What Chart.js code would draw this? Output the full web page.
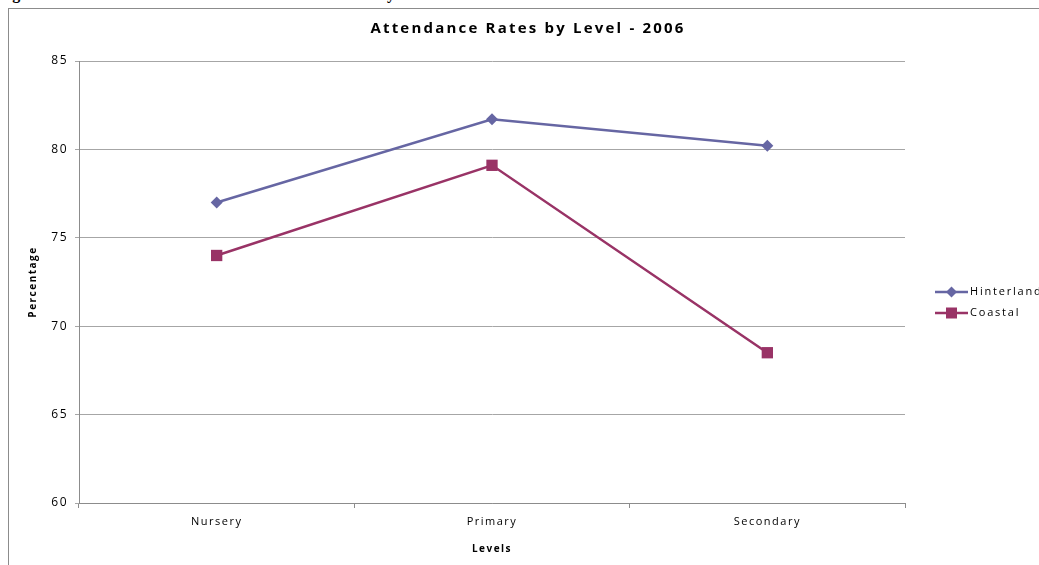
<!DOCTYPE html>
<html>
<head>
<meta charset="utf-8">
<title>Attendance Rates by Level - 2006</title>
<script src="https://cdn.jsdelivr.net/npm/chart.js@4.4.1/dist/chart.umd.min.js"></script>
<style>
  html, body { margin: 0; padding: 0; background: #fff; overflow: hidden; }
  body { width: 1039px; height: 565px; position: relative; }
  .caption { position: absolute; top: -14px; font: bold 16px "Liberation Serif", serif; line-height: 16px; color: #000; white-space: nowrap; }
  .frame { position: absolute; left: 8px; top: 8px; width: 1100px; height: 600px; border: 1px solid #8c8c8c; }
  #wrap { position: absolute; left: 0; top: 0; width: 1054px; height: 565px; }
</style>
</head>
<body>
<span class="caption" style="left:-2px">Figure</span>
<span class="caption" style="left:378px">by</span>
<div class="frame"></div>
<div id="wrap"><canvas id="attendanceChart" width="1054" height="565"></canvas></div>

<script>
// --- chart data ---
const levels = ['Nursery', 'Primary', 'Secondary'];
const hinterland = [77.0, 81.7, 80.2];
const coastal = [74.0, 79.1, 68.5];
const yMin = 60;
const yMax = 85;
const yStep = 5;

const FONT = '"Open Sans", "Liberation Sans", sans-serif';
const HINTERLAND_COLOR = '#6666a3';
const COASTAL_COLOR = '#993366';

// letter spacing for all text the chart draws
const spacingPlugin = {
  id: 'spacing',
  beforeDraw(chart) {
    chart.ctx.letterSpacing = '1.5px';
  }
};

// chart title, drawn by hand so it can use wider spacing
const titlePlugin = {
  id: 'bigTitle',
  afterDraw(chart) {
    const ctx = chart.ctx;
    ctx.save();
    ctx.letterSpacing = '2.2px';
    ctx.font = 'bold 15px ' + FONT;
    ctx.fillStyle = '#000';
    ctx.textAlign = 'center';
    ctx.textBaseline = 'middle';
    ctx.fillText('Attendance Rates by Level - 2006', 528, 29);
    ctx.restore();
  }
};

// legend on the right: short line with the series marker, then the name
const legendPlugin = {
  id: 'sideLegend',
  afterDraw(chart) {
    const ctx = chart.ctx;
    const x0 = 935, x1 = 968;
    const rows = [292, 313];
    ctx.save();
    chart.data.datasets.forEach((ds, i) => {
      const y = rows[i];
      ctx.strokeStyle = ds.borderColor;
      ctx.lineWidth = 2.5;
      ctx.beginPath();
      ctx.moveTo(x0, y);
      ctx.lineTo(x1, y);
      ctx.stroke();
      const cx = (x0 + x1) / 2;
      ctx.fillStyle = ds.borderColor;
      ctx.beginPath();
      if (ds.pointStyle === 'rectRot') {
        ctx.moveTo(cx, y - 5.5);
        ctx.lineTo(cx + 5.5, y);
        ctx.lineTo(cx, y + 5.5);
        ctx.lineTo(cx - 5.5, y);
        ctx.closePath();
      } else {
        ctx.rect(cx - 5.5, y - 5.5, 11, 11);
      }
      ctx.fill();
      ctx.letterSpacing = '1.8px';
      ctx.font = '11px ' + FONT;
      ctx.fillStyle = '#000';
      ctx.textAlign = 'left';
      ctx.textBaseline = 'middle';
      ctx.fillText(ds.label, 970, y);
    });
    ctx.restore();
  }
};

const canvas = document.getElementById('attendanceChart');
new Chart(canvas.getContext('2d'), {
  type: 'line',
  data: {
    labels: levels,
    datasets: [
      {
        label: 'Hinterland',
        data: hinterland,
        borderColor: HINTERLAND_COLOR,
        backgroundColor: HINTERLAND_COLOR,
        borderWidth: 2.5,
        pointStyle: 'rectRot',
        pointRadius: 6,
        pointBorderWidth: 0,
        tension: 0
      },
      {
        label: 'Coastal',
        data: coastal,
        borderColor: COASTAL_COLOR,
        backgroundColor: COASTAL_COLOR,
        borderWidth: 2.5,
        pointStyle: 'rect',
        pointRadius: 8,
        pointBorderWidth: 0,
        tension: 0
      }
    ]
  },
  options: {
    responsive: false,
    animation: false,
    devicePixelRatio: 1,
    layout: { padding: { left: 0, right: 149, top: 61, bottom: 0 } },
    plugins: {
      legend: { display: false },
      title: { display: false },
      tooltip: { enabled: false }
    },
    scales: {
      x: {
        type: 'category',
        offset: true,
        grid: { offset: true, drawOnChartArea: false, drawTicks: true, tickLength: 5, color: '#8c8c8c' },
        border: { display: true, color: '#8c8c8c', width: 1 },
        ticks: { color: '#000', font: { family: FONT, size: 11 }, padding: 7, maxRotation: 0 },
        title: {
          display: true,
          text: 'Levels',
          color: '#000',
          font: { family: FONT, size: 10, weight: 'bold' },
          padding: { top: 0, bottom: 10 }
        },
        afterFit(scale) { scale.height = 62; }
      },
      y: {
        min: yMin,
        max: yMax,
        grid: { color: '#a6a6a6', drawTicks: true, tickLength: 4 },
        border: { display: true, color: '#8c8c8c', width: 1 },
        ticks: { stepSize: yStep, color: '#000', font: { family: FONT, size: 12 }, padding: 7 },
        title: {
          display: true,
          text: 'Percentage',
          color: '#000',
          font: { family: FONT, size: 10, weight: 'bold' },
          padding: { top: 27, bottom: 0 }
        },
        afterFit(scale) { scale.width = 79; }
      }
    }
  },
  plugins: [spacingPlugin, titlePlugin, legendPlugin]
});
</script>
</body>
</html>
